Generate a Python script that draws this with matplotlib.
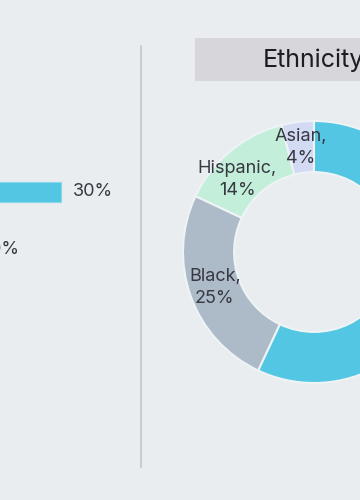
import numpy as np
import matplotlib.pyplot as plt
from matplotlib.patches import Rectangle
from matplotlib.lines import Line2D

plt.rcParams['font.family'] = ['Inter', 'DejaVu Sans']

# left panel (cut off by the crop)
bar_values = [30, 20]
bar_labels = ['30%', '20%']

# ethnicity donut
eth_names = ['Asian', 'Hispanic', 'Black', 'White']
eth_values = [4, 14, 25, 57]
eth_colors = ['#d3dbf4', '#c3eed9', '#adbbc9', '#52c6e2']
label_nudge = [0, 7, 0, 0]   # degrees, for readability

BG = '#e9edf0'
TXT = '#383842'
W, H = 360, 500

fig = plt.figure(figsize=(3.6, 5), dpi=100)
fig.patch.set_facecolor(BG)

# --- bars
px = 9.3  # pixels per percent
x0 = -218
axb = fig.add_axes([x0 / W, (500 - 279) / H, 300 / W, 116 / H])
axb.set_facecolor('none')
axb.barh(range(len(bar_values)), bar_values, height=0.345, color='#52c6e2',
         edgecolor='#86d8ec', linewidth=0.8)
for i, (v, lab) in enumerate(zip(bar_values, bar_labels)):
    axb.annotate(lab, (v, i), xytext=(8.6, 0), textcoords='offset points',
                 ha='left', va='center', fontsize=13, color=TXT)
axb.set_xlim(0, 300 / px)
axb.set_ylim(1.5, -0.5)
axb.axis('off')

# --- divider
fig.add_artist(Line2D([140.5 / W] * 2, [(500 - 467) / H, (500 - 46) / H],
                      color='#c3c6ca', lw=1.2))

# --- title box
fig.add_artist(Rectangle((195 / W, (500 - 81) / H), 240 / W, 43 / H,
                         transform=fig.transFigure, facecolor='#d7d7db',
                         edgecolor='none'))
fig.text(263 / W, (500 - 60) / H, 'Ethnicity', ha='left', va='center',
         fontsize=18, color='#1c1c22')

# --- donut
R = 131
axp = fig.add_axes([(314 - R) / W, (500 - 252 - R) / H, 2 * R / W, 2 * R / H])
axp.set_facecolor('none')
wedges, _ = axp.pie(eth_values, colors=eth_colors, startangle=90,
                    counterclock=True, radius=1,
                    wedgeprops=dict(width=0.39, edgecolor='#eef3f5', linewidth=1.5))
axp.set_xlim(-1, 1)
axp.set_ylim(-1, 1)
axp.set_aspect('equal')
for w, name, v, nud in zip(wedges, eth_names, eth_values, label_nudge):
    ang = np.deg2rad((w.theta1 + w.theta2) / 2 + nud)
    r = 0.805
    axp.text(r * np.cos(ang), r * np.sin(ang), f'{name},\n{v}%', ha='center',
             va='center', fontsize=13, color=TXT, linespacing=1.4,
             clip_on=False)

fig.savefig('out.png', dpi=100, facecolor=BG)
